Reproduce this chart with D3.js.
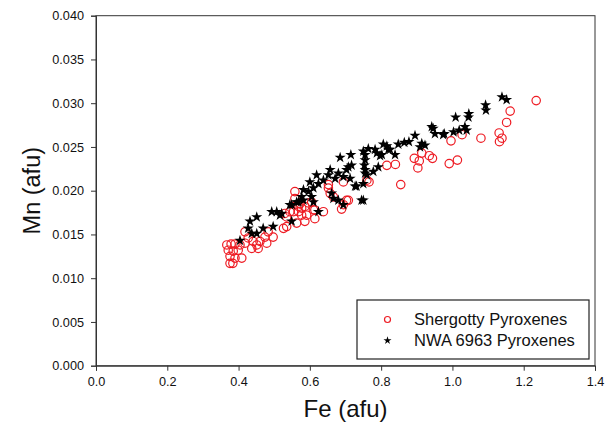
<!DOCTYPE html>
<html>
<head>
<meta charset="utf-8">
<script src="https://cdn.jsdelivr.net/npm/d3@7"></script>
<style>
  body { margin: 0; background: #fff; }
  svg { font-family: "Liberation Sans", Arial, sans-serif; }
</style>
</head>
<body>
<div id="chart"></div>
<script>
// Shergotty pyroxenes [Fe, Mn] (afu)
const shergotty = [
  [0.367, 0.0138], [0.379, 0.0139], [0.390, 0.0139], [0.371, 0.0132], [0.385, 0.0131],
  [0.399, 0.0132], [0.376, 0.0125], [0.390, 0.0123], [0.376, 0.0117], [0.384, 0.0117],
  [0.409, 0.0123], [0.404, 0.0138], [0.418, 0.0140], [0.427, 0.0146], [0.441, 0.0142],
  [0.437, 0.0134], [0.451, 0.0138], [0.460, 0.0142], [0.455, 0.0134], [0.479, 0.0140],
  [0.474, 0.0147], [0.497, 0.0147], [0.483, 0.0153], [0.526, 0.0157], [0.535, 0.0170],
  [0.544, 0.0176], [0.568, 0.0176], [0.577, 0.0172], [0.577, 0.0180], [0.558, 0.0199],
  [0.558, 0.0191], [0.568, 0.0182], [0.554, 0.0176], [0.530, 0.0174], [0.586, 0.0182],
  [0.591, 0.0172], [0.610, 0.0178], [0.614, 0.0168], [0.586, 0.0165], [0.652, 0.0203],
  [0.657, 0.0197], [0.666, 0.0193], [0.708, 0.0189], [0.689, 0.0179], [0.694, 0.0184],
  [0.638, 0.0176], [0.535, 0.0159], [0.760, 0.0212], [0.766, 0.0210], [0.816, 0.0229],
  [0.840, 0.0230], [0.855, 0.0207], [0.893, 0.0237], [0.907, 0.0234], [0.903, 0.0226],
  [0.914, 0.0243], [0.935, 0.0240], [0.944, 0.0237], [0.991, 0.0231], [1.014, 0.0235],
  [0.996, 0.0257], [1.027, 0.0264], [1.080, 0.0260], [1.132, 0.0256], [1.139, 0.0260],
  [1.131, 0.0266], [1.152, 0.0278], [1.162, 0.0291], [1.235, 0.0303], [0.418, 0.0153],
  [0.563, 0.0163], [0.596, 0.0186], [0.605, 0.0187], [0.652, 0.0207], [0.694, 0.0210],
  [0.703, 0.0189], [0.572, 0.0185], [0.614, 0.0178]
];

// NWA 6963 pyroxenes [Fe, Mn] (afu)
const nwa6963 = [
  [0.404, 0.0143], [0.432, 0.0165], [0.451, 0.0170], [0.427, 0.0157], [0.437, 0.0151],
  [0.451, 0.0151], [0.469, 0.0157], [0.497, 0.0159], [0.493, 0.0176], [0.507, 0.0176],
  [0.516, 0.0172], [0.549, 0.0165], [0.549, 0.0184], [0.568, 0.0187], [0.582, 0.0189],
  [0.521, 0.0174], [0.544, 0.0184], [0.563, 0.0187], [0.577, 0.0193], [0.582, 0.0201],
  [0.596, 0.0199], [0.605, 0.0193], [0.610, 0.0187], [0.610, 0.0203], [0.624, 0.0208],
  [0.600, 0.0210], [0.619, 0.0218], [0.638, 0.0212], [0.652, 0.0218], [0.657, 0.0224],
  [0.671, 0.0214], [0.680, 0.0220], [0.694, 0.0216], [0.703, 0.0224], [0.713, 0.0214],
  [0.685, 0.0238], [0.715, 0.0241], [0.717, 0.0229], [0.727, 0.0205], [0.624, 0.0176],
  [0.661, 0.0197], [0.666, 0.0191], [0.680, 0.0189], [0.694, 0.0184], [0.745, 0.0189],
  [0.755, 0.0235], [0.755, 0.0220], [0.750, 0.0208], [0.750, 0.0245], [0.764, 0.0248],
  [0.783, 0.0247], [0.788, 0.0243], [0.797, 0.0240], [0.755, 0.0241], [0.753, 0.0229],
  [0.755, 0.0224], [0.760, 0.0218], [0.778, 0.0222], [0.792, 0.0227], [0.806, 0.0253],
  [0.816, 0.0251], [0.820, 0.0247], [0.839, 0.0241], [0.848, 0.0253], [0.865, 0.0255],
  [0.878, 0.0256], [0.895, 0.0263], [0.914, 0.0254], [0.923, 0.0252], [0.909, 0.0250],
  [0.825, 0.0247], [0.802, 0.0241], [0.951, 0.0265], [0.974, 0.0264], [0.942, 0.0273],
  [0.946, 0.0271], [0.977, 0.0265], [1.003, 0.0267], [1.019, 0.0269], [1.035, 0.0273],
  [1.040, 0.0269], [1.009, 0.0284], [1.046, 0.0288], [1.045, 0.0284], [1.093, 0.0298],
  [1.094, 0.0292], [1.139, 0.0307], [1.152, 0.0304], [0.750, 0.0189], [0.731, 0.0205],
  [0.708, 0.0227]
];

const xTicks = [0.0, 0.2, 0.4, 0.6, 0.8, 1.0, 1.2, 1.4];
const yTicks = [0.000, 0.005, 0.010, 0.015, 0.020, 0.025, 0.030, 0.035, 0.040];
const seriesNames = ["Shergotty Pyroxenes", "NWA 6963 Pyroxenes"];

const W = 610, H = 432;
const margin = { top: 15.7, right: 15, bottom: 66.3, left: 96 };
const width = W - margin.left - margin.right;
const height = H - margin.top - margin.bottom;

const svg = d3.select("#chart").append("svg")
  .attr("width", W)
  .attr("height", H);

const g = svg.append("g")
  .attr("transform", "translate(" + margin.left + "," + margin.top + ")");

const x = d3.scaleLinear().domain([0, 1.4]).range([0, width]);
const y = d3.scaleLinear().domain([0, 0.04]).range([height, 0]);

// frame
g.append("rect")
  .attr("width", width)
  .attr("height", height)
  .attr("fill", "none")
  .attr("stroke", "#333")
  .attr("stroke-width", 1);

// axes
const xAxis = g.append("g")
  .attr("transform", "translate(0," + height + ")")
  .call(d3.axisBottom(x).tickValues(xTicks).tickFormat(d3.format(".1f")).tickSize(5).tickPadding(6));
const yAxis = g.append("g")
  .call(d3.axisLeft(y).tickValues(yTicks).tickFormat(d3.format(".3f")).tickSize(5).tickPadding(7));

[xAxis, yAxis].forEach(a => {
  a.select(".domain").attr("stroke", "#333");
  a.selectAll(".tick line").attr("stroke", "#333");
  a.selectAll("text").attr("fill", "#111").style("font-size", "12.7px")
    .style("font-family", "Liberation Sans, Arial, sans-serif");
});

// Shergotty circles
g.append("g").selectAll("circle")
  .data(shergotty)
  .enter().append("circle")
  .attr("cx", d => x(d[0]))
  .attr("cy", d => y(d[1]))
  .attr("r", 4.2)
  .attr("fill", "none")
  .attr("stroke", "#ee1c24")
  .attr("stroke-width", 1.2);

// NWA 6963 stars
const star = d3.symbol().type(d3.symbolStar).size(38);
g.append("g").selectAll("path")
  .data(nwa6963)
  .enter().append("path")
  .attr("d", star)
  .attr("transform", d => "translate(" + x(d[0]) + "," + y(d[1]) + ")")
  .attr("fill", "#000");

// axis titles
svg.append("text")
  .attr("x", margin.left + width / 2)
  .attr("y", 417)
  .attr("text-anchor", "middle")
  .style("font-size", "24px")
  .attr("fill", "#111")
  .text("Fe (afu)");

svg.append("text")
  .attr("transform", "translate(40," + (margin.top + height / 2) + ") rotate(-90)")
  .attr("text-anchor", "middle")
  .style("font-size", "23.5px")
  .attr("fill", "#111")
  .text("Mn (afu)");

// legend
const legend = svg.append("g");
legend.append("rect")
  .attr("x", 357)
  .attr("y", 300)
  .attr("width", 232)
  .attr("height", 59)
  .attr("fill", "#fff")
  .attr("stroke", "#222")
  .attr("stroke-width", 1.2);

legend.append("circle")
  .attr("cx", 387.5)
  .attr("cy", 319.5)
  .attr("r", 3)
  .attr("fill", "none")
  .attr("stroke", "#ee1c24")
  .attr("stroke-width", 1.2);

legend.append("path")
  .attr("d", d3.symbol().type(d3.symbolStar).size(20))
  .attr("transform", "translate(387.5,340.5)")
  .attr("fill", "#000");

legend.selectAll("text.lbl")
  .data(seriesNames)
  .enter().append("text")
  .attr("class", "lbl")
  .attr("x", 414)
  .attr("y", (d, i) => 325 + i * 20.5)
  .style("font-size", "16.5px")
  .attr("fill", "#111")
  .text(d => d);
</script>
</body>
</html>
